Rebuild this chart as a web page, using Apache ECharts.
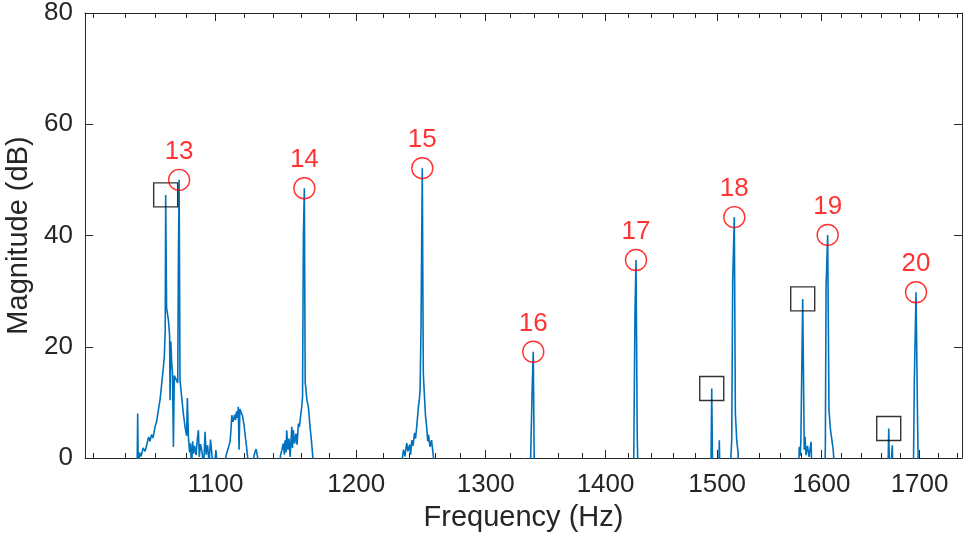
<!DOCTYPE html>
<html>
<head>
<meta charset="utf-8">
<script src="https://cdn.jsdelivr.net/npm/echarts@6/dist/echarts.min.js"></script>
<style>
  html, body { margin: 0; padding: 0; background: #ffffff; }
  #chart { width: 972px; height: 538px; }
</style>
</head>
<body>
<div id="chart"></div>
<script>
// Magnitude spectrum samples; values under 0 dB fall below the visible range
const freqHz = [1015.4, 1047.8, 1048.3, 1048.7, 1049.5, 1050.5, 1051.8, 1053.1, 1054.4, 1055.4, 1056.3, 1057.3, 1058.3, 1059.6, 1060.6, 1061.8, 1062.9, 1064.0, 1064.9, 1065.7, 1066.3, 1066.6, 1067.2, 1068.4, 1069.2, 1069.5, 1070.0, 1070.6, 1071.1, 1071.7, 1072.3, 1073.5, 1074.6, 1075.0, 1075.5, 1076.1, 1077.2, 1078.3, 1079.5, 1080.5, 1081.0, 1081.7, 1082.5, 1083.1, 1083.8, 1084.5, 1085.1, 1085.8, 1086.8, 1087.6, 1088.4, 1089.0, 1089.8, 1090.9, 1091.9, 1092.9, 1093.6, 1094.6, 1095.6, 1096.6, 1097.6, 1098.6, 1100.3, 1101.4, 1105.8, 1107.2, 1108.5, 1109.9, 1110.6, 1111.1, 1112.0, 1113.0, 1113.7, 1114.4, 1115.1, 1115.6, 1116.1, 1116.7, 1117.5, 1118.5, 1119.6, 1120.2, 1121.3, 1122.5, 1125.1, 1126.5, 1127.9, 1128.9, 1130.0, 1144.0, 1145.1, 1146.0, 1147.1, 1147.8, 1148.3, 1149.0, 1149.5, 1150.3, 1151.1, 1151.9, 1153.1, 1153.6, 1154.2, 1155.1, 1156.1, 1156.9, 1157.8, 1158.5, 1159.4, 1160.2, 1160.8, 1161.4, 1162.1, 1162.7, 1163.1, 1163.9, 1165.0, 1166.2, 1167.3, 1168.6, 1170.5, 1232.9, 1234.4, 1235.6, 1236.7, 1238.0, 1239.0, 1240.2, 1241.0, 1241.9, 1242.9, 1244.0, 1244.8, 1245.7, 1247.0, 1247.7, 1248.3, 1249.0, 1250.0, 1250.8, 1251.7, 1252.5, 1253.4, 1254.2, 1254.8, 1256.0, 1257.2, 1258.6, 1259.9, 1336.1, 1338.0, 1338.8, 1339.7, 1424.4, 1425.7, 1426.6, 1427.7, 1428.6, 1494.1, 1495.0, 1495.9, 1501.3, 1502.0, 1502.8, 1512.0, 1512.9, 1513.6, 1514.5, 1516.0, 1517.0, 1518.3, 1519.5, 1520.9, 1576.9, 1578.2, 1579.1, 1579.7, 1581.5, 1583.0, 1583.8, 1584.7, 1586.2, 1587.7, 1589.7, 1590.9, 1603.0, 1603.8, 1604.5, 1606.1, 1607.4, 1608.9, 1610.1, 1611.4, 1612.9, 1614.4, 1666.9, 1667.9, 1668.9, 1670.8, 1671.6, 1672.4, 1693.4, 1694.5, 1696.3, 1697.9, 1698.9, 1743.1];
const magDb = [-10, -6, 8.0, -3, 1.0, 0.3, 1.8, 1.2, 2.6, 3.8, 3.0, 4.2, 3.6, 5.6, 6.5, 8.6, 10.5, 13.4, 15.8, 18.2, 23, 47.3, 27, 24.8, 22, 10.4, 21, 17, 15.5, 2.0, 14.8, 14.6, 13.5, 34.7, 50.0, 14, 11, 8, 5.5, 4, 10.8, 3.8, 1.0, 2.6, -2, 3.0, 0.8, 2.2, 0.5, 3.2, 5.0, 0.2, 2.5, 1.0, -2, 4.7, 0.6, 2.3, -1, 3.3, 0.4, -3, 1.4, -3, -4, 0.5, 1.6, 2.9, 5.2, 7.7, 6.5, 7.8, 6.8, 8.4, 7.2, 9.2, 1.5, 8.8, 8.5, 7.6, 5.8, 4.4, 2.0, -1, -3, 0.5, 1.6, 0.3, -4, -4, 0.5, 1.4, 2.6, 0.6, 3.2, 1.0, 5.0, 1.5, 3.5, 0.2, 5.6, 1.8, 5.0, 2.6, 4.4, 2.4, 6.2, 5.6, 7.5, 9.2, 11, 39.8, 48.5, 13.5, 12.8, 10.5, 9.2, 5.6, 2.8, -1, -5, -5, -0.5, 1.5, 0.3, 2.7, 1.2, 2.4, 0.6, 3.2, 2.2, 4.5, 3.5, 5.6, 9.2, 10.5, 12.2, 23, 52.1, 15.2, 11, 7.5, 5.6, 3.0, 4.2, 2.0, 3.2, 0.3, -5, -5, 13.4, 19.1, -4, -5, 26, 35.6, 3.8, -5, -5, 12.5, -5, -5, 3.2, -5, -4, 0.5, 3.2, 32, 43.3, 8, 3.2, 1.0, -5, -5, 2.0, 0.4, 3.2, 28.6, 1.5, 3.8, 0.5, 2.2, 0.2, 2.9, -5, -5, 2.0, 30.8, 40.1, 8.6, 5, 3.5, 1.8, 1.5, -5, -5, 5.3, -5, -5, 2.3, -5, -5, 13.8, 29.8, 6.8, -5, -5];

// Harmonic peaks 13 to 20
const harmonicFreq = [1075.5, 1162.1, 1250.0, 1338.8, 1426.6, 1516.0, 1606.1, 1696.3];
const harmonicMag = [50.0, 48.5, 52.1, 19.1, 35.6, 43.3, 40.1, 29.8];
const harmonicOrder = ['13', '14', '15', '16', '17', '18', '19', '20'];

// Other flagged components
const otherFreq = [1066.6, 1495.0, 1581.5, 1667.9];
const otherMag = [47.3, 12.5, 28.6, 5.3];

// Axis ranges and ticks
const freqMin = 1014.7;
const freqMax = 1745.2;
const xMajorTicks = [1100, 1200, 1300, 1400, 1500, 1600, 1700];
const xMinorTicks = [1020, 1040, 1060, 1080, 1120, 1140, 1160, 1180, 1220, 1240, 1260, 1280, 1320, 1340, 1360, 1380, 1420, 1440, 1460, 1480, 1520, 1540, 1560, 1580, 1620, 1640, 1660, 1680, 1720, 1740];
const magMin = 0;
const magMax = 80;
const magStep = 20;

const axisColor = '#262626';
const fontFamily = '"Liberation Sans", Arial, Helvetica, sans-serif';

function freqAxis(position, ticks, tickLen, withLine, withLabels) {
  return {
    type: 'log',
    logBase: 10,
    position: position,
    min: freqMin,
    max: freqMax,
    gridIndex: 0,
    axisLine: { show: withLine, onZero: false, lineStyle: { color: axisColor, width: 1 } },
    axisTick: { show: true, inside: true, length: tickLen, customValues: ticks, lineStyle: { color: axisColor, width: 1 } },
    axisLabel: withLabels ? {
      show: true, customValues: ticks, margin: 14, color: axisColor,
      fontSize: 26, fontFamily: fontFamily,
      formatter: function (v) { return String(Math.round(v)); }
    } : { show: false },
    minorTick: { show: false },
    splitLine: { show: false },
    name: withLabels ? 'Frequency (Hz)' : '',
    nameLocation: 'middle',
    nameGap: 45,
    nameTextStyle: { color: axisColor, fontSize: 29, fontFamily: fontFamily }
  };
}

function magAxis(position, withLabels) {
  return {
    type: 'value',
    position: position,
    min: magMin,
    max: magMax,
    interval: magStep,
    gridIndex: 0,
    axisLine: { show: true, onZero: false, lineStyle: { color: axisColor, width: 1 } },
    axisTick: { show: true, inside: true, length: 8, lineStyle: { color: axisColor, width: 1 } },
    axisLabel: withLabels ? {
      show: true, margin: 12, color: axisColor, fontSize: 26, fontFamily: fontFamily
    } : { show: false },
    splitLine: { show: false },
    name: withLabels ? 'Magnitude (dB)' : '',
    nameLocation: 'middle',
    nameGap: 43,
    nameRotate: 90,
    nameTextStyle: { color: axisColor, fontSize: 29, fontFamily: fontFamily }
  };
}

const chart = echarts.init(document.getElementById('chart'), null, { renderer: 'canvas' });

chart.setOption({
  animation: false,
  backgroundColor: '#ffffff',
  grid: { left: 85, right: 10, top: 13, bottom: 80, containLabel: false, outerBoundsMode: 'none' },
  xAxis: [
    freqAxis('bottom', xMajorTicks, 8, true, true),
    freqAxis('bottom', xMinorTicks, 5, false, false),
    freqAxis('top', xMajorTicks, 8, true, false),
    freqAxis('top', xMinorTicks, 5, false, false)
  ],
  yAxis: [
    magAxis('left', true),
    magAxis('right', false)
  ],
  series: [
    {
      name: 'Spectrum',
      type: 'line',
      xAxisIndex: 0,
      yAxisIndex: 0,
      data: freqHz.map(function (f, i) { return [f, magDb[i]]; }),
      showSymbol: false,
      symbol: 'none',
      clip: true,
      lineStyle: { color: '#0072BD', width: 1.6 },
      z: 2
    },
    {
      name: 'Harmonics',
      type: 'scatter',
      xAxisIndex: 0,
      yAxisIndex: 0,
      data: harmonicFreq.map(function (f, i) { return [f, harmonicMag[i]]; }),
      symbol: 'circle',
      symbolSize: 21,
      itemStyle: { color: 'rgba(0,0,0,0)', borderColor: '#ff0000', borderWidth: 1.4 },
      label: {
        show: true,
        position: 'top',
        distance: 4,
        color: '#ff0000',
        fontSize: 26,
        fontFamily: fontFamily,
        formatter: function (p) { return harmonicOrder[p.dataIndex]; }
      },
      z: 4
    },
    {
      name: 'Other',
      type: 'scatter',
      xAxisIndex: 0,
      yAxisIndex: 0,
      data: otherFreq.map(function (f, i) { return [f, otherMag[i]]; }),
      symbol: 'rect',
      symbolSize: 24,
      itemStyle: { color: 'rgba(0,0,0,0)', borderColor: '#000000', borderWidth: 1.4 },
      z: 3
    }
  ]
});
</script>
</body>
</html>
